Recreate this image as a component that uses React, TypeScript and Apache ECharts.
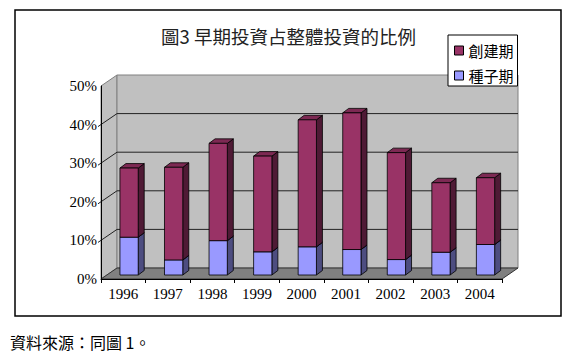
import React, { useEffect, useRef } from "react";
import * as echarts from "echarts";

const years = ["1996", "1997", "1998", "1999", "2000", "2001", "2002", "2003", "2004"];
const seedValues = [9.8, 3.9, 8.9, 6.0, 7.3, 6.6, 4.0, 5.9, 7.9];
const startupValues = [17.9, 24.0, 25.2, 24.8, 32.9, 35.4, 27.7, 18.0, 17.3];
const gridValues = [10, 20, 30, 40];
const seriesNames = ["創建期", "種子期"];
const titleText = "圖3 早期投資占整體投資的比例";
const sourceText = "資料來源：同圖 1。";

const WALL_DX = 16;
const WALL_DY = -11;
const BAR_OX = 5.8;
const BAR_OY = -4;
const BAR_DX = 6;
const BAR_DY = -4.5;

function makeBarRenderer(front: string, side: string, top: string) {
  return (params: any, api: any) => {
    const i = api.value(0);
    const b = api.value(1);
    const t = api.value(2);
    const p0 = api.coord([i, b]);
    const p1 = api.coord([i, t]);
    const w = api.size([1, 0])[0] * 0.41;
    const x1 = p0[0] + BAR_OX - w / 2;
    const x2 = x1 + w;
    const yb = p0[1] + BAR_OY;
    const yt = p1[1] + BAR_OY;
    const st = { stroke: "#000", lineWidth: 0.8 };
    return {
      type: "group",
      children: [
        {
          type: "polygon",
          shape: { points: [[x2, yt], [x2 + BAR_DX, yt + BAR_DY], [x2 + BAR_DX, yb + BAR_DY], [x2, yb]] },
          style: { fill: side, ...st },
        },
        {
          type: "polygon",
          shape: { points: [[x1, yt], [x1 + BAR_DX, yt + BAR_DY], [x2 + BAR_DX, yt + BAR_DY], [x2, yt]] },
          style: { fill: top, ...st },
        },
        {
          type: "rect",
          shape: { x: x1, y: yt, width: w, height: yb - yt },
          style: { fill: front, ...st },
        },
      ],
    };
  };
}

function renderWalls(params: any, api: any) {
  const cs = params.coordSys;
  const L = cs.x;
  const R = cs.x + cs.width;
  const T = cs.y;
  const B = cs.y + cs.height;
  const children: any[] = [];
  children.push({
    type: "polygon",
    shape: { points: [[L, T], [L + WALL_DX, T + WALL_DY], [L + WALL_DX, B + WALL_DY], [L, B]] },
    style: { fill: "#c0c0c0", stroke: "#808080", lineWidth: 1 },
  });
  children.push({
    type: "rect",
    shape: { x: L + WALL_DX, y: T + WALL_DY, width: R - L, height: B - T },
    style: { fill: "#c0c0c0", stroke: "#808080", lineWidth: 1 },
  });
  children.push({
    type: "polygon",
    shape: { points: [[L, B], [R, B], [R + WALL_DX, B + WALL_DY], [L + WALL_DX, B + WALL_DY]] },
    style: { fill: "#808080", stroke: "#333", lineWidth: 1 },
  });
  gridValues.forEach((v) => {
    const y = api.coord([0, v])[1];
    children.push({
      type: "polyline",
      shape: { points: [[L - 3, y + 2], [L + WALL_DX, y + WALL_DY], [R + WALL_DX, y + WALL_DY]] },
      style: { stroke: "#222", lineWidth: 1, fill: null },
    });
  });
  return { type: "group", children };
}

export default function App() {
  const ref = useRef<HTMLDivElement>(null);
  useEffect(() => {
    const chart = echarts.init(ref.current!, null, { renderer: "svg" });
    const serif = "'Liberation Serif', 'Times New Roman', serif";
    const cjk = "'Noto Sans CJK TC', sans-serif";
    chart.setOption({
      animation: false,
      backgroundColor: "#fff",
      title: {
        text: titleText,
        left: "center",
        top: 22,
        textStyle: { fontFamily: cjk, fontSize: 18.5, fontWeight: "normal", color: "#222" },
      },
      legend: {
        data: seriesNames.map((n) => ({ name: n, icon: "rect" })),
        orient: "vertical",
        left: 448,
        top: 35,
        itemWidth: 9,
        itemHeight: 9,
        itemGap: 10,
        padding: [8, 4, 3, 6],
        backgroundColor: "#fff",
        borderColor: "#000",
        borderWidth: 1,
        itemStyle: { borderColor: "#000", borderWidth: 1 },
        textStyle: { fontFamily: cjk, fontSize: 15, color: "#000" },
      },
      grid: { left: 101, top: 86, width: 401, height: 193 },
      xAxis: {
        type: "category",
        data: years,
        z: 2,
        axisLine: { show: true, lineStyle: { color: "#000", width: 1 } },
        axisTick: { show: true, length: 4, lineStyle: { color: "#000" } },
        axisLabel: { fontFamily: serif, fontSize: 15, color: "#000", margin: 7 },
        splitLine: { show: false },
      },
      yAxis: {
        type: "value",
        min: 0,
        max: 50,
        interval: 10,
        z: 2,
        axisLine: { show: true, lineStyle: { color: "#000", width: 1 } },
        axisTick: { show: false },
        axisLabel: { formatter: "{value}%", fontFamily: serif, fontSize: 15, color: "#000", margin: 4 },
        splitLine: { show: false },
      },
      series: [
        {
          type: "custom",
          name: "walls",
          z: 1,
          silent: true,
          renderItem: renderWalls,
          data: [[0, 0]],
          encode: { x: 0, y: 1 },
        },
        {
          type: "custom",
          name: seriesNames[1],
          z: 3,
          itemStyle: { color: "#9999ff" },
          renderItem: makeBarRenderer("#9999ff", "#4d4d80", "#7a7acc"),
          data: years.map((_, i) => [i, 0, seedValues[i]]),
          encode: { x: 0, y: [1, 2] },
        },
        {
          type: "custom",
          name: seriesNames[0],
          z: 4,
          itemStyle: { color: "#993366" },
          renderItem: makeBarRenderer("#993366", "#4f1a35", "#7d2953"),
          data: years.map((_, i) => [i, seedValues[i], seedValues[i] + startupValues[i]]),
          encode: { x: 0, y: [1, 2] },
        },
      ],
      graphic: [
        {
          type: "rect",
          shape: { x: 15, y: 10, width: 546, height: 306 },
          style: { fill: null, stroke: "#000", lineWidth: 1.5 },
          z: 10,
        },
        {
          type: "text",
          left: 10,
          top: 334,
          style: { text: sourceText, fontFamily: cjk, fontSize: 16, fill: "#000" },
        },
      ],
    });
    return () => chart.dispose();
  }, []);
  return <div ref={ref} style={{ position: "absolute", left: 0, top: 0, width: 577, height: 356 }} />;
}
